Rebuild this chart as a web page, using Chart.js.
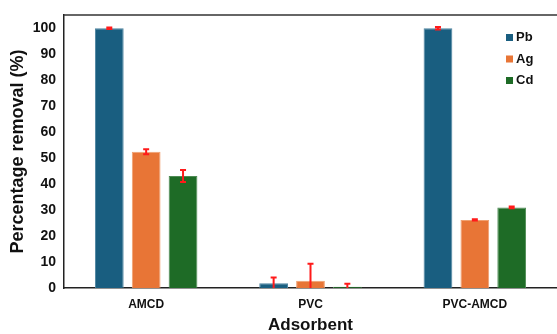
<!DOCTYPE html>
<html>
<head>
<meta charset="utf-8">
<script src="https://cdn.jsdelivr.net/npm/chart.js@4.4.1/dist/chart.umd.min.js"></script>
<style>
  html, body { margin: 0; padding: 0; background: #fff; }
  #wrap { width: 557px; height: 334px; }
</style>
</head>
<body>
<div id="wrap"><canvas id="mycanvas" width="557" height="334"></canvas></div>
<script>
// adsorbents on the x axis
var adsorbents = ["AMCD", "PVC", "PVC-AMCD"];
var metals = ["Pb", "Ag", "Cd"];

// percentage removal for each metal
var pbRemoval = [99.9, 1.8, 99.9];
var agRemoval = [52.4, 2.8, 26.2];
var cdRemoval = [43.1, 0.5, 31.0];

// error bar half-widths
var pbError = [0.3, 2.2, 0.5];
var agError = [1.0, 6.5, 0.2];
var cdError = [2.3, 1.1, 0.3];

var yTicks = [0, 10, 20, 30, 40, 50, 60, 70, 80, 90, 100];

var colors = ["#195e80", "#e87536", "#1e6b26"];
var borders = ["#4d84a0", "#f0a070", "#4e8c54"];
var FONT = "'Liberation Sans', Arial, sans-serif";

var errorBars = {
    id: "errorBars",
    afterDatasetsDraw: function (chart) {
        var ctx = chart.ctx;
        var y = chart.scales.y;
        ctx.save();
        ctx.strokeStyle = "#ff1a1a";
        ctx.lineWidth = 2;
        chart.data.datasets.forEach(function (ds, di) {
            var meta = chart.getDatasetMeta(di);
            meta.data.forEach(function (bar, i) {
                var v = ds.data[i], e = ds.errors[i];
                var top = y.getPixelForValue(v + e);
                var bot = y.getPixelForValue(Math.max(0, v - e));
                ctx.beginPath();
                ctx.moveTo(bar.x, top); ctx.lineTo(bar.x, bot);
                ctx.moveTo(bar.x - 3, top); ctx.lineTo(bar.x + 3, top);
                if (v - e > 0) { ctx.moveTo(bar.x - 3, bot); ctx.lineTo(bar.x + 3, bot); }
                ctx.stroke();
            });
        });
        // top frame line
        var a = chart.chartArea;
        ctx.strokeStyle = "#333";
        ctx.lineWidth = 1.5;
        ctx.beginPath();
        ctx.moveTo(a.left, a.top); ctx.lineTo(a.right, a.top);
        ctx.stroke();
        // legend
        ctx.font = "bold 13px " + FONT;
        ctx.textBaseline = "middle";
        chart.data.datasets.forEach(function (ds, di) {
            var ly = 37.5 + di * 21.5;
            ctx.fillStyle = ds.backgroundColor;
            ctx.fillRect(506, ly - 3.5, 7, 7);
            ctx.fillStyle = "#111";
            ctx.fillText(ds.label, 516, ly);
        });
        ctx.restore();
    }
};

var ctx = document.getElementById("mycanvas");

var barGraph = new Chart(ctx, {
    type: "bar",
    data: {
        labels: adsorbents,
        datasets: [{
            label: metals[0],
            data: pbRemoval,
            errors: pbError,
            backgroundColor: colors[0],
            borderColor: borders[0],
            borderWidth: 1
        }, {
            label: metals[1],
            data: agRemoval,
            errors: agError,
            backgroundColor: colors[1],
            borderColor: borders[1],
            borderWidth: 1
        }, {
            label: metals[2],
            data: cdRemoval,
            errors: cdError,
            backgroundColor: colors[2],
            borderColor: borders[2],
            borderWidth: 1
        }]
    },
    options: {
        responsive: false,
        animation: false,
        layout: { padding: { top: 15, right: 0, left: 0, bottom: 0 } },
        categoryPercentage: 0.673,
        barPercentage: 0.78,
        plugins: {
            legend: { display: false },
            tooltip: { enabled: false }
        },
        scales: {
            x: {
                grid: { display: false, drawTicks: false },
                border: { color: "#222", width: 1.5 },
                ticks: {
                    color: "#111",
                    padding: 9,
                    font: { family: FONT, size: 12, weight: "bold" }
                },
                title: {
                    display: true,
                    text: "Adsorbent",
                    color: "#111",
                    padding: { top: 2, bottom: 0 },
                    font: { family: FONT, size: 17, weight: "bold", lineHeight: 1.0 }
                },
                afterFit: function (s) { s.height = 46; }
            },
            y: {
                min: 0,
                max: 105,
                afterBuildTicks: function (s) {
                    s.ticks = yTicks.map(function (v) { return { value: v }; });
                },
                grid: { display: false, drawTicks: true, tickLength: 4, tickColor: "#222" },
                border: { color: "#222", width: 1.5 },
                ticks: {
                    color: "#111",
                    padding: 4,
                    font: { family: FONT, size: 14, weight: "bold" }
                },
                title: {
                    display: true,
                    text: "Percentage removal (%)",
                    color: "#111",
                    padding: { top: 7, bottom: 4 },
                    font: { family: FONT, size: 18, weight: "bold" }
                },
                afterFit: function (s) { s.width = 64; }
            }
        }
    },
    plugins: [errorBars]
});
</script>
</body>
</html>
